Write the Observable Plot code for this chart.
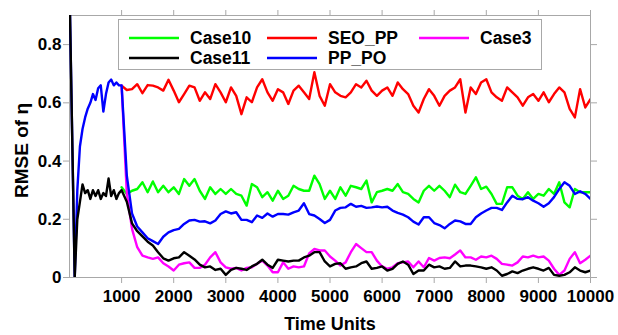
<!DOCTYPE html>
<html>
<head>
<meta charset="utf-8">
<script src="https://cdn.jsdelivr.net/npm/d3@7"></script>
<script src="https://cdn.jsdelivr.net/npm/@observablehq/plot@0.6"></script>
<style>
  body { margin: 0; background: #fff; }
  #chart { width: 618px; height: 335px; }
</style>
</head>
<body>
<div id="chart"></div>
<script>
// RMSE of eta over time for five estimation cases.

// Time grid: warm-up phase (shared by PP_PO and Case11) and the main run.
const timeEarly = [0, 100, 150, 200, 250, 300, 350, 400, 450, 500, 550, 600, 650, 700, 750, 800, 850, 900, 950];
const timeLate = d3.range(1000, 10001, 100);

const ppPoEarly = [1.0, 0, 0.30, 0.45, 0.51, 0.55, 0.58, 0.60, 0.63, 0.61, 0.65, 0.66, 0.57, 0.63, 0.67, 0.68, 0.66, 0.67, 0.66];
const case11Early = [1.0, 0, 0.20, 0.26, 0.32, 0.29, 0.30, 0.27, 0.30, 0.28, 0.30, 0.27, 0.29, 0.28, 0.34, 0.28, 0.30, 0.27, 0.29];

const seoPP = [
  0.659, 0.644, 0.647, 0.664, 0.633, 0.661, 0.659, 0.653, 0.642, 0.679,
  0.642, 0.602, 0.630, 0.659, 0.653, 0.607, 0.636, 0.613, 0.664, 0.636,
  0.602, 0.653, 0.624, 0.561, 0.619, 0.602, 0.653, 0.681, 0.636, 0.607,
  0.647, 0.636, 0.596, 0.642, 0.659, 0.636, 0.613, 0.705, 0.624, 0.590,
  0.664, 0.636, 0.624, 0.619, 0.636, 0.664, 0.653, 0.676, 0.642, 0.624,
  0.642, 0.653, 0.624, 0.670, 0.647, 0.630, 0.590, 0.567, 0.613, 0.647,
  0.624, 0.590, 0.624, 0.642, 0.653, 0.681, 0.567, 0.653, 0.630, 0.670,
  0.681, 0.636, 0.619, 0.607, 0.653, 0.636, 0.619, 0.590, 0.619, 0.630,
  0.607, 0.636, 0.602, 0.630, 0.653, 0.636, 0.579, 0.550, 0.647, 0.584,
  0.613
];

const case10 = [
  0.310, 0.287, 0.298, 0.304, 0.327, 0.293, 0.330, 0.293, 0.315, 0.293,
  0.310, 0.287, 0.338, 0.315, 0.338, 0.298, 0.270, 0.310, 0.287, 0.304,
  0.287, 0.304, 0.287, 0.281, 0.247, 0.321, 0.310, 0.276, 0.293, 0.264,
  0.298, 0.270, 0.281, 0.315, 0.304, 0.298, 0.298, 0.350, 0.321, 0.270,
  0.298, 0.270, 0.310, 0.281, 0.315, 0.310, 0.304, 0.333, 0.258, 0.293,
  0.298, 0.304, 0.298, 0.321, 0.293, 0.287, 0.270, 0.258, 0.298, 0.315,
  0.298, 0.315, 0.298, 0.276, 0.319, 0.293, 0.287, 0.315, 0.344, 0.304,
  0.312, 0.287, 0.253, 0.253, 0.310, 0.310, 0.281, 0.270, 0.293, 0.270,
  0.287, 0.281, 0.304, 0.287, 0.327, 0.258, 0.241, 0.304, 0.293, 0.293,
  0.293
];

const ppPo = [
  0.660, 0.350, 0.220, 0.175, 0.155, 0.135, 0.125, 0.115, 0.140, 0.155,
  0.163, 0.167, 0.184, 0.196, 0.198, 0.192, 0.193, 0.186, 0.196, 0.218,
  0.227, 0.220, 0.224, 0.198, 0.198, 0.190, 0.213, 0.205, 0.220, 0.209,
  0.218, 0.218, 0.216, 0.224, 0.230, 0.255, 0.218, 0.213, 0.201, 0.187,
  0.198, 0.230, 0.239, 0.241, 0.253, 0.243, 0.246, 0.239, 0.241, 0.244,
  0.241, 0.243, 0.230, 0.222, 0.216, 0.207, 0.192, 0.182, 0.207, 0.207,
  0.187, 0.180, 0.169, 0.184, 0.196, 0.193, 0.184, 0.184, 0.207, 0.220,
  0.230, 0.239, 0.239, 0.232, 0.258, 0.281, 0.270, 0.269, 0.276, 0.264,
  0.255, 0.243, 0.255, 0.276, 0.304, 0.327, 0.315, 0.287, 0.296, 0.287,
  0.270
];

const case3 = [
  0.660, 0.290, 0.167, 0.104, 0.075, 0.069, 0.064, 0.069, 0.049, 0.038,
  0.024, 0.044, 0.049, 0.052, 0.033, 0.033, 0.044, 0.069, 0.087, 0.052,
  0.035, 0.030, 0.033, 0.024, 0.033, 0.035, 0.047, 0.058, 0.041, 0.018,
  0.018, 0.052, 0.030, 0.038, 0.035, 0.038, 0.083, 0.098, 0.093, 0.093,
  0.072, 0.058, 0.041, 0.052, 0.087, 0.115, 0.101, 0.087, 0.087, 0.058,
  0.038, 0.030, 0.035, 0.049, 0.052, 0.055, 0.035, 0.055, 0.035, 0.067,
  0.058, 0.067, 0.069, 0.066, 0.079, 0.093, 0.069, 0.069, 0.061, 0.072,
  0.069, 0.075, 0.064, 0.047, 0.044, 0.041, 0.052, 0.072, 0.069, 0.075,
  0.069, 0.072, 0.058, 0.030, 0.009, 0.024, 0.064, 0.087, 0.049, 0.061,
  0.075
];

const case11 = [
  0.300, 0.260, 0.186, 0.159, 0.141, 0.123, 0.110, 0.087, 0.066, 0.058,
  0.066, 0.069, 0.087, 0.075, 0.062, 0.044, 0.035, 0.038, 0.026, 0.030,
  0.009, 0.026, 0.033, 0.030, 0.026, 0.038, 0.047, 0.061, 0.044, 0.033,
  0.061, 0.058, 0.055, 0.058, 0.058, 0.069, 0.075, 0.087, 0.087, 0.055,
  0.038, 0.047, 0.049, 0.030, 0.035, 0.038, 0.049, 0.055, 0.030, 0.033,
  0.038, 0.024, 0.030, 0.047, 0.055, 0.044, 0.012, 0.024, 0.024, 0.044,
  0.035, 0.038, 0.030, 0.033, 0.055, 0.038, 0.041, 0.041, 0.038, 0.035,
  0.030, 0.035, 0.024, 0.006, 0.012, 0.021, 0.015, 0.024, 0.030, 0.035,
  0.030, 0.024, 0.033, 0.009, 0.006, 0.009, 0.018, 0.035, 0.024, 0.018,
  0.024
];

const xTicks = [1000, 2000, 3000, 4000, 5000, 6000, 7000, 8000, 9000, 10000];
const yTicks = [0, 0.2, 0.4, 0.6, 0.8];

// Legend entries in column-major order (two rows).
const legendNames = ["Case10", "Case11", "SEO_PP", "PP_PO", "Case3"];
const legendColors = ["#00ff00", "#000000", "#ff0000", "#0000ff", "#ff00ff"];

function toRows(times, values) {
  return times.map((t, i) => ({ t, v: values[i] }));
}

const series = {
  "Case10": toRows(timeLate, case10),
  "SEO_PP": toRows(timeLate, seoPP),
  "Case3": toRows(timeLate, case3),
  "PP_PO": toRows(timeEarly.concat(timeLate), ppPoEarly.concat(ppPo)),
  "Case11": toRows(timeEarly.concat(timeLate), case11Early.concat(case11))
};
const drawOrder = ["Case10", "SEO_PP", "Case3", "PP_PO", "Case11"];
const colorOf = Object.fromEntries(legendNames.map((n, i) => [n, legendColors[i]]));

const font = "'Liberation Sans', Arial, Helvetica, sans-serif";
const gridGrey = "#a8a8a8";

const svg = Plot.plot({
  width: 618,
  height: 335,
  marginLeft: 69,
  marginRight: 28,
  marginTop: 15,
  marginBottom: 58,
  style: { fontFamily: font, background: "white", overflow: "visible" },
  x: { domain: [0, 10000] },
  y: { domain: [0, 0.9] },
  marks: [
    Plot.frame({ stroke: gridGrey }),
    Plot.axisX(xTicks, { anchor: "bottom", tickSize: 6, tickPadding: 6, stroke: gridGrey, fill: "black",
      fontSize: 17, fontWeight: "bold", label: null, tickFormat: d => String(d) }),
    Plot.axisX(xTicks, { anchor: "top", tickSize: 6, stroke: gridGrey, label: null, tickFormat: () => "" }),
    Plot.axisY(yTicks, { anchor: "left", tickSize: 6, tickPadding: 2, stroke: gridGrey, fill: "black",
      fontSize: 17, fontWeight: "bold", label: null, tickFormat: d => (d === 0 ? "0" : String(d)) }),
    Plot.axisY(yTicks, { anchor: "right", tickSize: 6, stroke: gridGrey, label: null, tickFormat: () => "" }),
    ...drawOrder.map(name =>
      Plot.line(series[name], { x: "t", y: "v", stroke: colorOf[name], strokeWidth: 2.4, clip: true })
    ),
    Plot.text(["RMSE of \u03b7"], { text: d => d, frameAnchor: "left", dx: -48, dy: 4, rotate: -90,
      textAnchor: "middle", lineAnchor: "middle", fontSize: 19, fontWeight: "bold", fill: "black" }),
    Plot.text(["Time Units"], { text: d => d, frameAnchor: "bottom", dy: 47,
      textAnchor: "middle", lineAnchor: "middle", fontSize: 18, fontWeight: "bold", fill: "black" })
  ]
});

// Legend box inside the plot area, three columns by two rows.
const legend = d3.select(svg).append("g")
  .attr("font-family", font).attr("font-size", 17.5).attr("font-weight", "bold")
  .attr("text-anchor", "start");
legend.append("rect")
  .attr("x", 118.5).attr("y", 19.5).attr("width", 423).attr("height", 50)
  .attr("fill", "white").attr("stroke", gridGrey);
const colX = [129, 267, 419];
const rowY = [38, 58];
legendNames.forEach((name, i) => {
  const x = colX[Math.floor(i / 2)];
  const y = rowY[i % 2];
  legend.append("line").attr("x1", x).attr("x2", x + 50).attr("y1", y).attr("y2", y)
    .attr("stroke", legendColors[i]).attr("stroke-width", 2.5);
  legend.append("text").attr("x", x + 61).attr("y", y).attr("dy", "0.35em")
    .attr("text-anchor", "start").attr("fill", "black").text(name);
});

document.getElementById("chart").appendChild(svg);
</script>
</body>
</html>
